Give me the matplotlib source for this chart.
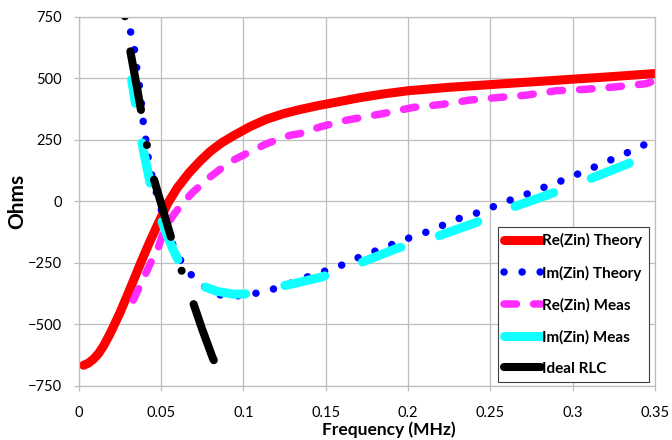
import matplotlib.pyplot as plt
from matplotlib.lines import Line2D

# Re(Zin) Theory
re_th_f = [0.003, 0.006, 0.009, 0.012, 0.015, 0.019, 0.025, 0.031, 0.037, 0.043,
           0.048, 0.054, 0.06, 0.067, 0.074, 0.08, 0.087, 0.094, 0.104, 0.114,
           0.124, 0.134, 0.145, 0.156, 0.17, 0.185, 0.2, 0.225, 0.25, 0.275,
           0.3, 0.325, 0.35]
re_th = [-667, -658, -642, -620, -590, -540, -455, -360, -262, -168,
         -95, -10, 55, 115, 165, 203, 238, 266, 303, 333,
         355, 372, 388, 402, 420, 436, 449, 463, 474, 485,
         496, 507, 519]

# Im(Zin) Theory
im_th_f = [0.0316, 0.0342, 0.0356, 0.0377, 0.0386, 0.0403, 0.0419, 0.0443, 0.048, 0.052,
           0.0555, 0.0591, 0.0652, 0.072, 0.0818, 0.0919, 0.1027, 0.1128, 0.1223, 0.1324,
           0.1425, 0.1527, 0.1624, 0.1715, 0.1816, 0.1917, 0.2013, 0.2114, 0.2211, 0.2312,
           0.241, 0.2505, 0.2606, 0.2704, 0.2803, 0.29, 0.2997, 0.3096, 0.3193, 0.3289,
           0.3386, 0.35]
im_th = [688, 607, 522, 438, 353, 275, 190, 110, 15, -75,
         -145, -209, -276, -325, -375, -389, -379, -369, -348, -325,
         -298, -278, -253, -224, -199, -172, -148, -125, -98, -70,
         -50, -26, 1, 24, 51, 74, 101, 128, 157, 184,
         214, 250]

# Re(Zin) Meas
re_ms_f = [0.0332, 0.0389, 0.0429, 0.0485, 0.052, 0.0575, 0.0635, 0.0696, 0.0799, 0.087,
           0.094, 0.102, 0.1142, 0.1284, 0.1345, 0.1466, 0.1547, 0.1624, 0.1847, 0.2029,
           0.2211, 0.2373, 0.2555, 0.2718, 0.29, 0.3082, 0.3264, 0.3447, 0.35]
re_ms = [-402, -321, -262, -186, -115, -57, -5, 38, 99, 135,
         167, 194, 234, 268, 275, 302, 316, 329, 356, 381,
         394, 411, 422, 431, 449, 455, 465, 478, 490]

# Im(Zin) Meas
im_ms_f = [0.0322, 0.0355, 0.0393, 0.0433, 0.047, 0.052, 0.0575, 0.062, 0.0666, 0.0737,
           0.0838, 0.094, 0.101, 0.108, 0.1162, 0.13, 0.1476, 0.1649, 0.1932, 0.211,
           0.2408, 0.2584, 0.2883, 0.3056, 0.3339, 0.35]
im_ms = [494, 355, 207, 78, -10, -110, -199, -260, -301, -341,
         -366, -378, -377, -368, -355, -336, -308, -267, -192, -159,
         -88, -37, 34, 78, 153, 210]

# Ideal RLC
rlc_f = [0.0281, 0.0312, 0.0345, 0.0377, 0.0413, 0.0453, 0.0506, 0.0559, 0.0621, 0.069,
         0.075, 0.0812, 0.0889]
rlc = [752, 617, 497, 377, 235, 99, -21, -142, -274, -402,
       -520, -633, -751]

x_ticks = [0, 0.05, 0.1, 0.15, 0.2, 0.25, 0.3, 0.35]
x_tick_labels = ['0', '0.05', '0.1', '0.15', '0.2', '0.25', '0.3', '0.35']
y_ticks = [-750, -500, -250, 0, 250, 500, 750]

plt.rcParams['font.family'] = ['Lato', 'DejaVu Sans']

fig = plt.figure(figsize=(6.72, 4.4), dpi=100)
ax = fig.add_axes([0.117, 0.1234, 0.8576, 0.8386])

red, = ax.plot(re_th_f, re_th, color='#ff0000', lw=6.5, solid_capstyle='round')
blue, = ax.plot(im_th_f, im_th, color='#0000ff', lw=5.4,
                ls=(0, (0.01, 2.4)), dash_capstyle='round')
mag, = ax.plot(re_ms_f, re_ms, color='#ff2cff', lw=5.4,
               ls=(0, (1.67, 2.27)), dash_capstyle='round')
cyan, = ax.plot(im_ms_f, im_ms, color='#10ffff', lw=6.5,
                ls=(1.9, (4.55, 4.45)), dash_capstyle='round')
black, = ax.plot(rlc_f, rlc, color='black', lw=5.8,
                 ls=(0, (0.01, 4.4, 7.4, 4.4)), dash_capstyle='round')

ax.set_xlim(0, 0.35)
ax.set_ylim(-750, 750)
ax.set_xticks(x_ticks)
ax.set_xticklabels(x_tick_labels)
ax.set_yticks(y_ticks)
ax.set_axisbelow(True)
ax.grid(True, color='#bebebe', lw=0.9)
for s in ax.spines.values():
    s.set_color('#bebebe')
    s.set_linewidth(0.9)
ax.tick_params(axis='both', length=3.6, width=0.9, color='#bebebe', labelsize=10.5)
ax.tick_params(axis='x', pad=11)
ax.tick_params(axis='y', pad=8.5)

fig.text(389 / 672, 1 - 435 / 440, 'Frequency (MHz)', ha='center', va='baseline',
         fontsize=12.5, fontweight='bold')
fig.text(17 / 672, 1 - 201 / 440, 'Ohms', ha='center', va='center', rotation=90,
         fontsize=15, fontweight='bold')

handles = [
    Line2D([], [], color='#ff0000', lw=6.5, solid_capstyle='round'),
    Line2D([], [], color='#0000ff', lw=5.4, ls=(0, (0.01, 2.4)), dash_capstyle='round'),
    Line2D([], [], color='#ff2cff', lw=5.4, ls=(0, (1.67, 2.27)), dash_capstyle='round'),
    Line2D([], [], color='#10ffff', lw=6.5, solid_capstyle='round'),
    Line2D([], [], color='black', lw=5.8, solid_capstyle='round'),
]
labels = ['Re(Zin) Theory', 'Im(Zin) Theory', 'Re(Zin) Meas', 'Im(Zin) Meas', 'Ideal RLC']
leg = ax.legend(handles, labels, loc='lower left', bbox_to_anchor=(0.728, 0.011, 0.2616, 0.436),
                mode='expand', borderaxespad=0, fancybox=False, framealpha=1,
                edgecolor='#404040', prop={'weight': 'bold', 'size': 11},
                handlelength=2.4, handletextpad=0.1, labelspacing=1.13, borderpad=0.4)
leg.get_frame().set_linewidth(0.8)

fig.savefig('out.png', dpi=100)
